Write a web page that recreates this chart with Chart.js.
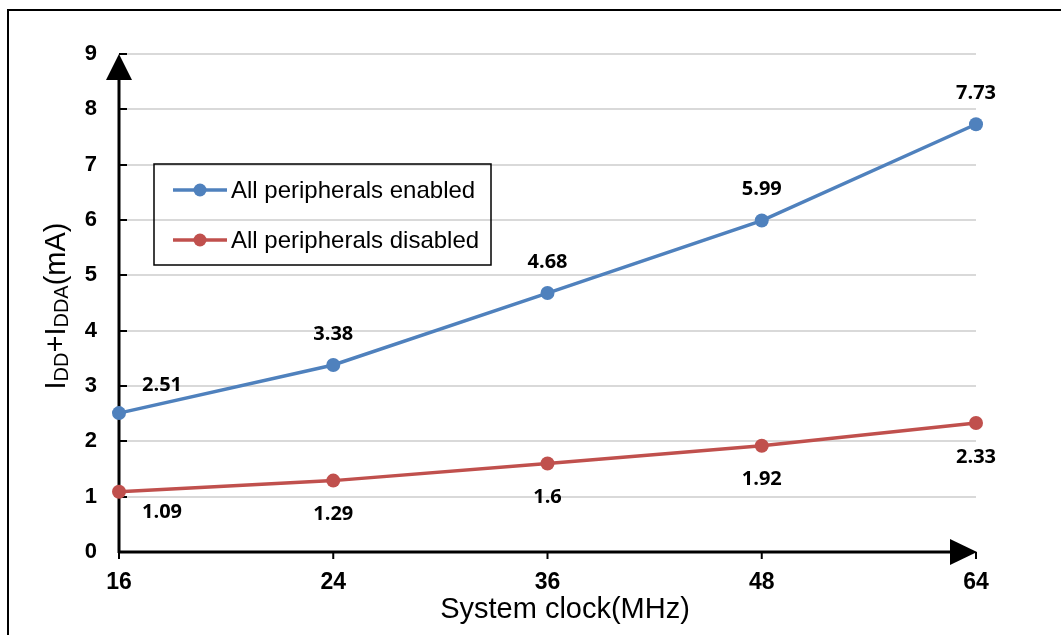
<!DOCTYPE html>
<html><head><meta charset="utf-8">
<script src="https://cdn.jsdelivr.net/npm/chart.js@4.4.1/dist/chart.umd.min.js"></script>
<style>html,body{margin:0;padding:0;background:#fff;overflow:hidden}#wrap{width:1061px;height:635px;position:relative}</style>
</head><body><div id="wrap"><canvas id="c" width="1061" height="635"></canvas></div>
<script>
const categories = ['16', '24', '36', '48', '64'];
const enabledValues = [2.51, 3.38, 4.68, 5.99, 7.73];
const disabledValues = [1.09, 1.29, 1.6, 1.92, 2.33];
const seriesNames = ['All peripherals enabled', 'All peripherals disabled'];
const yMin = 0, yMax = 9, yStep = 1;
const xTitle = 'System clock(MHz)';
const yTitleParts = [['I', false], ['DD', true], ['+', false], ['I', false], ['DDA', true], ['(mA)', false]];

const BLUE = '#4F81BD', RED = '#C0504D';
const SANS = '"Liberation Sans", Arial, sans-serif';

const decorPlugin = {
  id: 'decor',
  beforeDraw(chart) {
    const ctx = chart.ctx;
    ctx.save();
    ctx.fillStyle = '#fff';
    ctx.fillRect(0, 0, chart.width, chart.height);
    ctx.strokeStyle = '#000';
    ctx.lineWidth = 2;
    ctx.beginPath();
    ctx.moveTo(8, chart.height);
    ctx.lineTo(8, 10);
    ctx.lineTo(chart.width, 10);
    ctx.stroke();
    ctx.restore();
  },
  beforeDatasetsDraw(chart) {
    const ctx = chart.ctx, a = chart.chartArea;
    const xs = chart.scales.x, ys = chart.scales.y;
    ctx.save();
    ctx.strokeStyle = '#000';
    ctx.fillStyle = '#000';
    ctx.lineWidth = 2;
    ys.ticks.forEach(t => {
      const y = Math.round(ys.getPixelForValue(t.value));
      ctx.beginPath(); ctx.moveTo(a.left, y); ctx.lineTo(a.left + 8, y); ctx.stroke();
    });
    xs.ticks.forEach((t, i) => {
      const x = xs.getPixelForTick(i);
      ctx.beginPath(); ctx.moveTo(x, a.bottom); ctx.lineTo(x, a.bottom + 7); ctx.stroke();
    });
    ctx.lineWidth = 3;
    ctx.beginPath(); ctx.moveTo(a.left, a.bottom + 1); ctx.lineTo(a.left, a.top + 20); ctx.stroke();
    ctx.beginPath(); ctx.moveTo(a.left - 1, a.bottom); ctx.lineTo(a.right - 20, a.bottom); ctx.stroke();
    ctx.beginPath();
    ctx.moveTo(a.left, a.top); ctx.lineTo(a.left - 13, a.top + 26); ctx.lineTo(a.left + 13, a.top + 26); ctx.closePath(); ctx.fill();
    ctx.beginPath();
    ctx.moveTo(a.right + 1, a.bottom); ctx.lineTo(a.right - 26, a.bottom - 13); ctx.lineTo(a.right - 26, a.bottom + 13); ctx.closePath(); ctx.fill();
    ctx.restore();
  },
  afterDatasetsDraw(chart) {
    const ctx = chart.ctx;
    ctx.save();
    ctx.font = 'bold 20px "Open Sans", sans-serif';
    ctx.fillStyle = '#000';
    ctx.textBaseline = 'middle';
    chart.data.datasets.forEach((ds, di) => {
      const meta = chart.getDatasetMeta(di);
      const above = di === 0;
      meta.data.forEach((pt, i) => {
        const txt = String(ds.data[i]);
        let x = pt.x, y = pt.y;
        if (i === 0) { ctx.textAlign = 'left'; x += 23; y += above ? -28 : 21; }
        else { ctx.textAlign = 'center'; y += above ? -31 : 34; }
        ctx.fillText(txt, x, y);
      });
    });
    const lx = 154, ly = 164, lw = 337, lh = 101;
    ctx.strokeStyle = '#000'; ctx.lineWidth = 1.5;
    ctx.strokeRect(lx, ly, lw, lh);
    ctx.font = '24px ' + SANS;
    ctx.textAlign = 'left';
    chart.data.datasets.forEach((ds, di) => {
      const yy = 190 + di * 50;
      ctx.strokeStyle = ds.borderColor; ctx.lineWidth = 3.5;
      ctx.beginPath(); ctx.moveTo(173, yy); ctx.lineTo(227, yy); ctx.stroke();
      ctx.fillStyle = ds.backgroundColor;
      ctx.beginPath(); ctx.arc(200, yy, 6.5, 0, Math.PI * 2); ctx.fill();
      ctx.fillStyle = '#000';
      ctx.fillText(ds.label, 231, yy + 1);
    });
    ctx.font = '29px ' + SANS;
    ctx.textAlign = 'center';
    ctx.textBaseline = 'alphabetic';
    ctx.fillText(xTitle, 565, 618);
    const big = '29px ' + SANS, small = '20px ' + SANS;
    let total = 0;
    yTitleParts.forEach(([t, sub]) => { ctx.font = sub ? small : big; total += ctx.measureText(t).width; });
    ctx.translate(65, 306);
    ctx.rotate(-Math.PI / 2);
    ctx.textAlign = 'left';
    let cx = -total / 2;
    yTitleParts.forEach(([t, sub]) => {
      ctx.font = sub ? small : big;
      ctx.fillText(t, cx, sub ? 3 : 0);
      cx += ctx.measureText(t).width;
    });
    ctx.restore();
  }
};

new Chart(document.getElementById('c'), {
  type: 'line',
  data: {
    labels: categories,
    datasets: [
      { label: seriesNames[0], data: enabledValues, borderColor: BLUE, backgroundColor: BLUE,
        borderWidth: 3.5, pointRadius: 7, pointHoverRadius: 7, pointBorderWidth: 0, tension: 0 },
      { label: seriesNames[1], data: disabledValues, borderColor: RED, backgroundColor: RED,
        borderWidth: 3.5, pointRadius: 7, pointHoverRadius: 7, pointBorderWidth: 0, tension: 0 }
    ]
  },
  options: {
    responsive: false,
    animation: false,
    events: [],
    layout: { padding: { top: 54, right: 85, left: 0, bottom: 0 } },
    plugins: { legend: { display: false }, tooltip: { enabled: false }, title: { display: false } },
    scales: {
      x: {
        offset: false,
        grid: { display: false, drawTicks: false },
        border: { display: false },
        ticks: { autoSkip: false, maxRotation: 0, padding: 17, color: '#000', font: { family: SANS, size: 23, weight: 'bold' } },
        afterFit: s => { s.height = 83; }
      },
      y: {
        min: yMin, max: yMax,
        grid: { color: '#D9D9D9', lineWidth: 2, drawTicks: false },
        border: { display: false },
        ticks: { stepSize: yStep, padding: 22, color: '#000', font: { family: SANS, size: 22, weight: 'bold' } },
        afterFit: s => { s.width = 119; }
      }
    }
  },
  plugins: [decorPlugin]
});
</script></body></html>
